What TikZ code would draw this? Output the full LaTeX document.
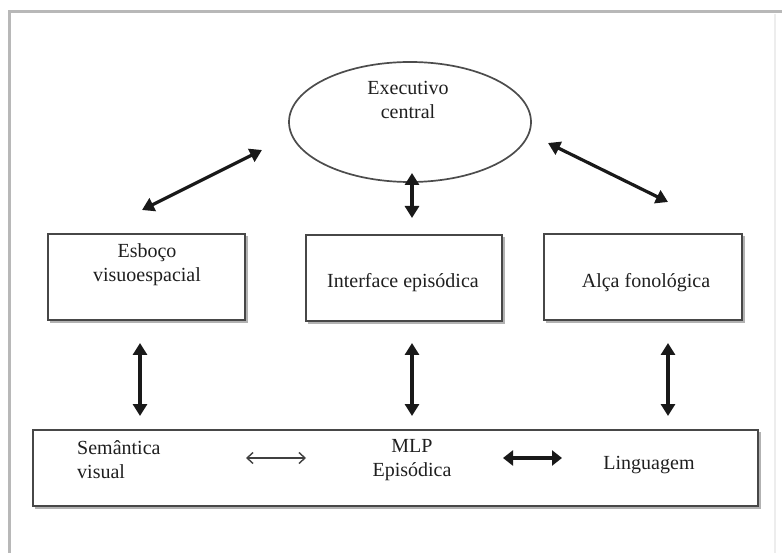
\documentclass[tikz,border=0pt]{standalone}
\usepackage{fontspec}
\setmainfont{Liberation Serif}
\usetikzlibrary{arrows.meta,shapes.geometric}
\begin{document}
\begin{tikzpicture}[x=1pt,y=-1pt,
  txt/.style={font=\fontsize{20}{24}\selectfont, text=black!88, align=center, inner sep=0pt},
  boxnode/.style={draw=black!72, line width=2.2pt, inner sep=0pt, minimum height=86pt, fill=white},
  shadowbox/.style={draw=black!30, line width=2pt},
  thickarr/.style={line width=3.2pt, black!90, {Triangle[length=12pt,width=14pt]}-{Triangle[length=12pt,width=14pt]}},
  thinarr/.style={line width=1.4pt, black!75, {Straight Barb[length=6pt,width=11pt]}-{Straight Barb[length=6pt,width=11pt]}},
  fatarr/.style={line width=4.2pt, black!90, {Triangle[length=10pt,width=15pt]}-{Triangle[length=10pt,width=15pt]}},
  framel/.style={draw=black!28, line width=3pt}
]
\useasboundingbox (0,0) rectangle (782,553);
\fill[white] (0,0) rectangle (782,553);
% outer frame
\draw[framel] (9,553) -- (9,12) -- (782,12);
\draw[draw=black!7, line width=2pt] (775,14) -- (775,553);

% central executive
\node[ellipse, draw=black!70, line width=1.7pt, minimum width=242pt, minimum height=120pt, inner sep=0pt] (ec) at (410,122) {};
\node[txt] (ectxt) at (408,100) {Executivo\\central};

% boxes (soft shadow drawn first)
\draw[shadowbox] (50,322) -- (247,322) -- (247,236);
\draw[shadowbox] (308,323) -- (504,323) -- (504,237);
\draw[shadowbox] (546,322) -- (744,322) -- (744,236);
\draw[shadowbox] (35,508) -- (760,508) -- (760,432);
\node[boxnode, minimum width=197pt] (esb) at (146.5,277) {};
\node[txt] (esbtxt) at (147,265) {Esboço\\visuoespacial};
\node[boxnode, minimum width=196pt] (int) at (404,278) {};
\node[txt] (inttxt) at (403,283) {Interface episódica};
\node[boxnode, minimum width=198pt] (alc) at (643,277) {};
\node[txt] (alctxt) at (646,283) {Alça fonológica};

% bottom box
\node[boxnode, minimum width=725pt, minimum height=76pt] (mlp) at (395.5,468) {};
\node[txt, align=left, anchor=west] (sem) at (77,459.5) {Semântica\\visual};
\node[txt] (epi) at (412,460) {MLP\\Episódica};
\node[txt] (lin) at (649,465) {Linguagem};

% arrow end points
\coordinate (l1) at (142,210);
\coordinate (l2) at (262,150);
\coordinate (r1) at (548,143);
\coordinate (r2) at (668,202);
\coordinate (c1) at (412,173);
\coordinate (c2) at (412,218);
\coordinate (v1a) at (140,343);
\coordinate (v1b) at (140,416);
\coordinate (v2a) at (412,343);
\coordinate (v2b) at (412,416);
\coordinate (v3a) at (668,343);
\coordinate (v3b) at (668,416);
\coordinate (h1a) at (246,458);
\coordinate (h1b) at (306,458);
\coordinate (h2a) at (503,458);
\coordinate (h2b) at (562,458);

\draw[thickarr] (l1) -- (l2);
\draw[thickarr] (r1) -- (r2);
\draw[thickarr] (c1) -- (c2);
\draw[thickarr] (v1a) -- (v1b);
\draw[thickarr] (v2a) -- (v2b);
\draw[thickarr] (v3a) -- (v3b);
\draw[thinarr] (h1a) -- (h1b);
\draw[fatarr] (h2a) -- (h2b);
\end{tikzpicture}
\end{document}
